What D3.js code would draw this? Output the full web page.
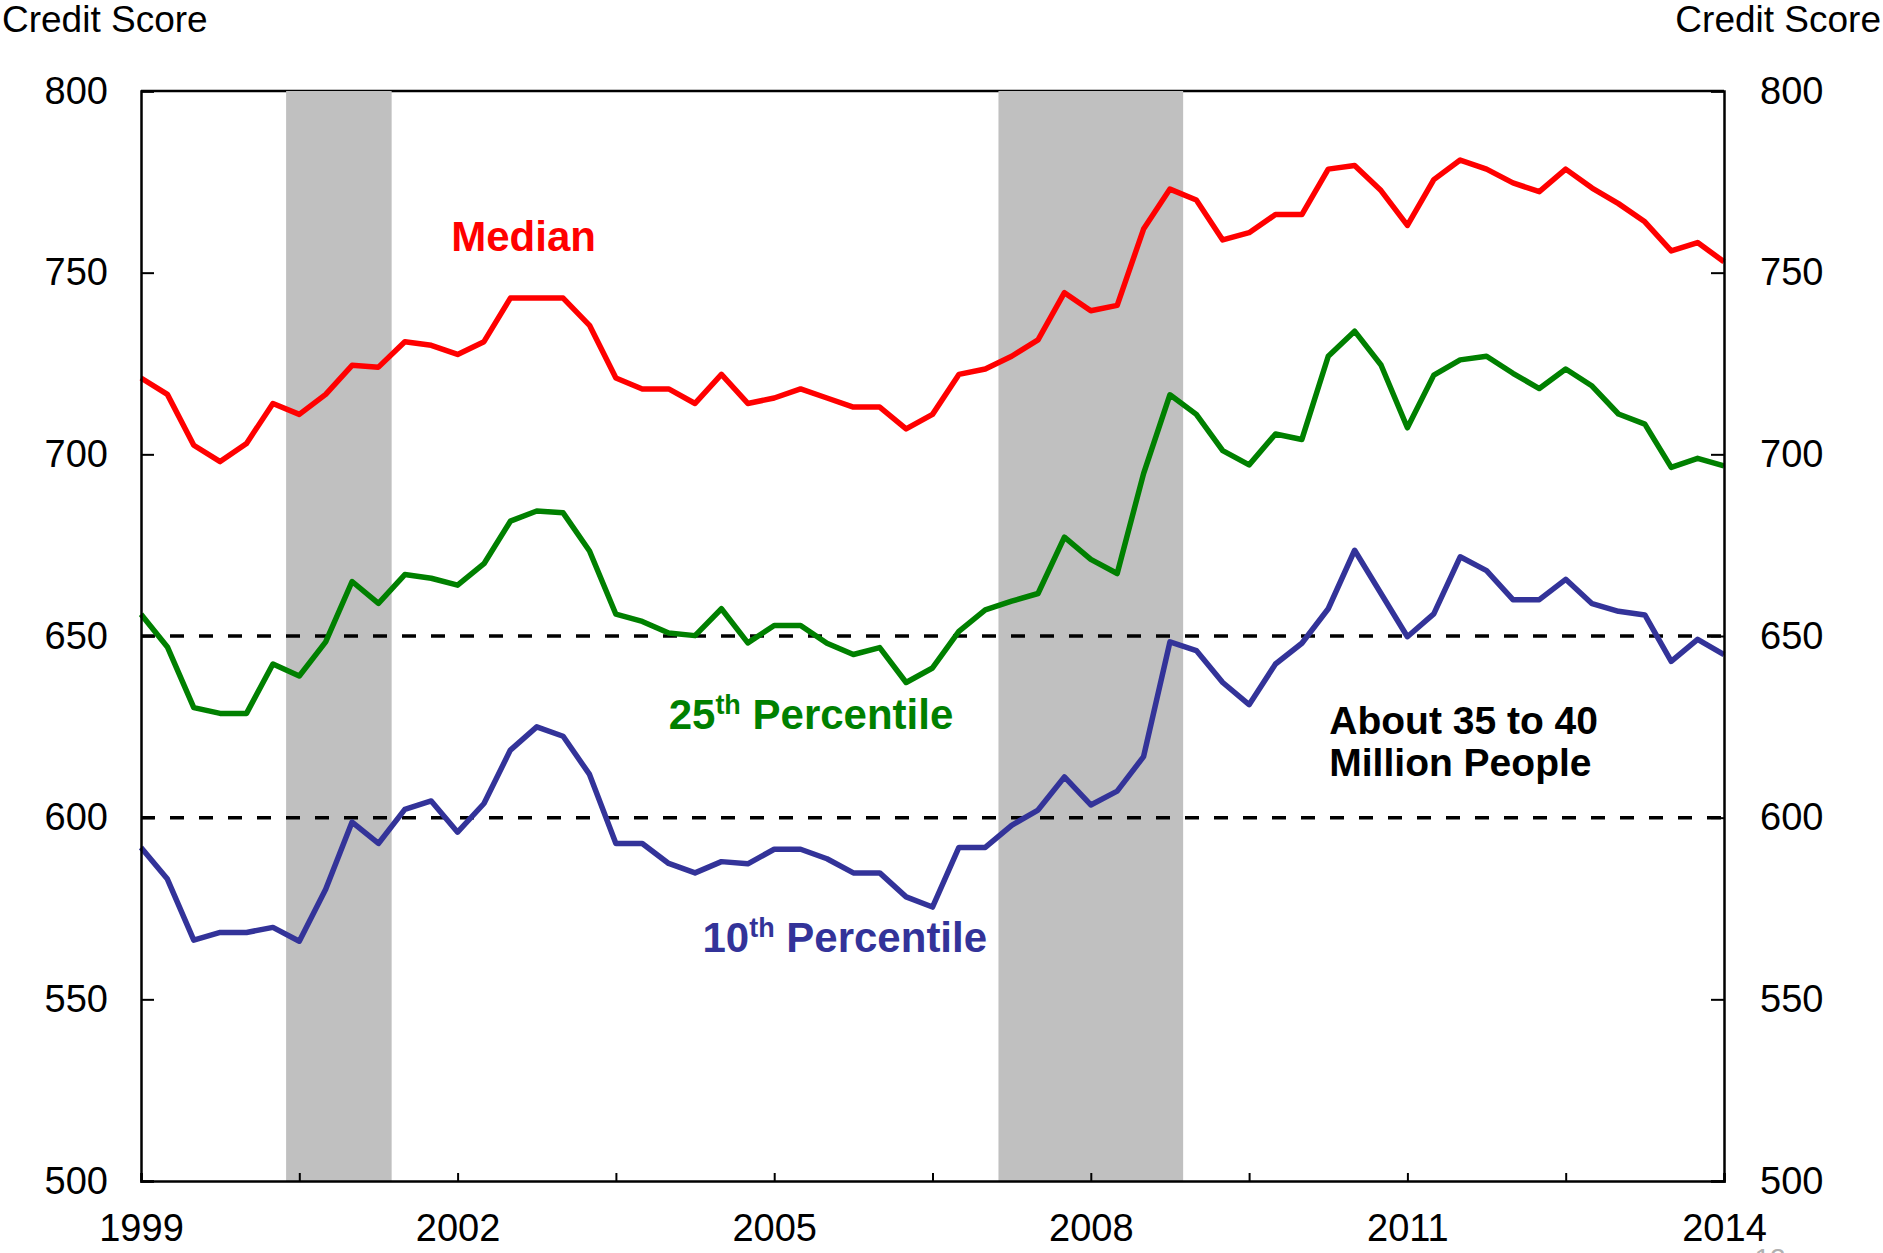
<!DOCTYPE html>
<html>
<head>
<meta charset="utf-8">
<script src="https://cdn.jsdelivr.net/npm/d3@7"></script>
<style>
  body { margin: 0; background: #fff; }
  text { font-family: Arial, "Liberation Sans", sans-serif; }
</style>
</head>
<body>
<div id="chart"></div>
<script>
// quarterly credit scores, 1999Q1 .. 2014Q1
var startYear = 1999;
var median = [721, 716.5, 702.5, 698, 703, 714, 711, 716.5, 724.5, 724, 731,
  730, 727.5, 731, 743, 743, 743, 735.5, 721, 718, 718,
  714, 722, 714, 715.5, 718, 715.5, 713, 713, 707, 711,
  722, 723.5, 727, 731.5, 744.5, 739.5, 741, 762, 773, 770,
  759, 761, 766, 766, 778.5, 779.5, 772.6, 763, 775.6, 781,
  778.5, 774.7, 772.3, 778.5, 773.3, 769, 764, 756, 758.3, 753];
var pct25 = [656, 647, 630.3, 628.7, 628.7, 642.3, 639, 648.4, 665, 659, 666.9,
  665.9, 664, 669.9, 681.6, 684.4, 683.9, 673.4, 656, 654, 650.8,
  650.1, 657.5, 648.1, 652.9, 652.9, 648, 644.9, 646.8, 637.2, 641.2,
  651.3, 657.2, 659.6, 661.7, 677.2, 671.1, 667.2, 694.7, 716.4, 711,
  701, 697.1, 705.6, 704.1, 727, 733.9, 724.6, 707.3, 721.8, 726,
  727, 722.3, 718.1, 723.5, 718.8, 711.1, 708.3, 696.4, 698.9, 696.8];
var pct10 = [591.8, 583.1, 566.3, 568.4, 568.4, 569.8, 566, 580.3, 598.8, 592.9, 602.3,
  604.6, 596, 603.9, 618.6, 625, 622.4, 611.9, 592.9, 592.9, 587.4,
  584.8, 587.9, 587.3, 591.3, 591.3, 588.7, 584.8, 584.8, 578.2, 575.4,
  591.8, 591.8, 597.9, 602.1, 611.2, 603.5, 607.3, 616.8, 648.4, 646,
  637.2, 631.1, 642.3, 648, 657.5, 673.6, 661.7, 649.8, 656.1, 671.8,
  668, 660, 660, 665.6, 658.9, 656.8, 655.8, 643, 649.1, 644.9];

var recessions = [[2000.375, 2001.375], [2007.125, 2008.875]];
var refLines = [650, 600];
var yTicks = [500, 550, 600, 650, 700, 750, 800];
var xTickYears = [1999, 2000.5, 2002, 2003.5, 2005, 2006.5, 2008, 2009.5, 2011, 2012.5, 2014];
var xLabelYears = [1999, 2002, 2005, 2008, 2011, 2014];

var W = 1883, H = 1253;
var margin = {top: 91, right: 159, bottom: 72, left: 141},
    width = W - margin.left - margin.right,
    height = H - margin.top - margin.bottom;

var x = d3.scaleLinear().domain([1999, 2014]).range([0, width]);
var y = d3.scaleLinear().domain([500, 800]).range([height, 0]);

var svg = d3.select("#chart").append("svg")
    .attr("width", W)
    .attr("height", H);

var g = svg.append("g")
    .attr("transform", "translate(" + margin.left + "," + margin.top + ")");

// top border (sits under the shaded bands)
g.append("line")
    .attr("x1", 0).attr("x2", width)
    .attr("y1", 0).attr("y2", 0)
    .attr("stroke", "#000").attr("stroke-width", 2.5);

// recession bands
g.selectAll("rect.band")
    .data(recessions)
  .enter().append("rect")
    .attr("class", "band")
    .attr("x", function(d) { return x(d[0]); })
    .attr("width", function(d) { return x(d[1]) - x(d[0]); })
    .attr("y", 0)
    .attr("height", height)
    .attr("fill", "#c0c0c0");

// dashed reference lines
g.selectAll("line.ref")
    .data(refLines)
  .enter().append("line")
    .attr("class", "ref")
    .attr("x1", 0).attr("x2", width)
    .attr("y1", function(d) { return y(d); })
    .attr("y2", function(d) { return y(d); })
    .attr("stroke", "#000")
    .attr("stroke-width", 3.5)
    .attr("stroke-dasharray", "14,15");

// lines
var line = d3.line()
    .x(function(d, i) { return x(startYear + i / 4); })
    .y(function(d) { return y(d); });

var series = [
  {values: pct10, color: "#333399"},
  {values: pct25, color: "#008000"},
  {values: median, color: "#ff0000"}
];

series.forEach(function(s) {
  g.append("path")
      .datum(s.values)
      .attr("fill", "none")
      .attr("stroke", s.color)
      .attr("stroke-width", 5.5)
      .attr("stroke-linejoin", "round")
      .attr("d", line);
});

// left axis
var yLeft = g.append("g")
    .call(d3.axisLeft(y).tickValues(yTicks).tickSize(-13).tickPadding(33).tickFormat(d3.format("d")));
// right axis
var yRight = g.append("g")
    .attr("transform", "translate(" + width + ",0)")
    .call(d3.axisRight(y).tickValues(yTicks).tickSize(-13).tickPadding(36).tickFormat(d3.format("d")));
// bottom axis
var xAxis = g.append("g")
    .attr("transform", "translate(0," + height + ")")
    .call(d3.axisBottom(x).tickValues(xTickYears).tickSize(-8).tickPadding(33)
      .tickFormat(function(d) { return xLabelYears.indexOf(d) >= 0 ? d3.format("d")(d) : ""; }));

[yLeft, yRight, xAxis].forEach(function(ax) {
  ax.select(".domain").attr("stroke", "#000").attr("stroke-width", 2.5);
  ax.selectAll(".tick line").attr("stroke", "#000").attr("stroke-width", 2);
  ax.selectAll(".tick text").attr("font-size", 38).attr("fill", "#000")
    .style("font-family", "Arial, 'Liberation Sans', sans-serif");
});
xAxis.selectAll(".tick text").attr("dy", "0.71em");

// axis titles
svg.append("text")
    .attr("x", 2).attr("y", 32)
    .attr("font-size", 37)
    .text("Credit Score");
svg.append("text")
    .attr("x", 1881).attr("y", 32)
    .attr("text-anchor", "end")
    .attr("font-size", 37)
    .text("Credit Score");

// series labels
g.append("text")
    .attr("x", x(2001.94)).attr("y", y(756))
    .attr("fill", "#ff0000")
    .attr("font-size", 42).attr("font-weight", "bold")
    .text("Median");

var l25 = g.append("text")
    .attr("x", x(2004.0)).attr("y", y(624.4))
    .attr("fill", "#008000")
    .attr("font-size", 42).attr("font-weight", "bold");
l25.append("tspan").text("25");
l25.append("tspan").attr("font-size", 27).attr("dy", -15).text("th");
l25.append("tspan").attr("dy", 15).text(" Percentile");

var l10 = g.append("text")
    .attr("x", x(2004.32)).attr("y", y(563))
    .attr("fill", "#333399")
    .attr("font-size", 42).attr("font-weight", "bold");
l10.append("tspan").text("10");
l10.append("tspan").attr("font-size", 27).attr("dy", -15).text("th");
l10.append("tspan").attr("dy", 15).text(" Percentile");

var note = g.append("text")
    .attr("fill", "#000")
    .attr("font-size", 39).attr("font-weight", "bold");
note.append("tspan").attr("x", x(2010.26)).attr("y", y(623)).text("About 35 to 40");
note.append("tspan").attr("x", x(2010.26)).attr("y", y(611.4)).text("Million People");

// page number, mostly cut off at the bottom edge
svg.append("text")
    .attr("x", 1770).attr("y", 1268)
    .attr("text-anchor", "middle")
    .attr("fill", "#b0b0b0")
    .attr("font-size", 28)
    .text("12");
</script>
</body>
</html>
